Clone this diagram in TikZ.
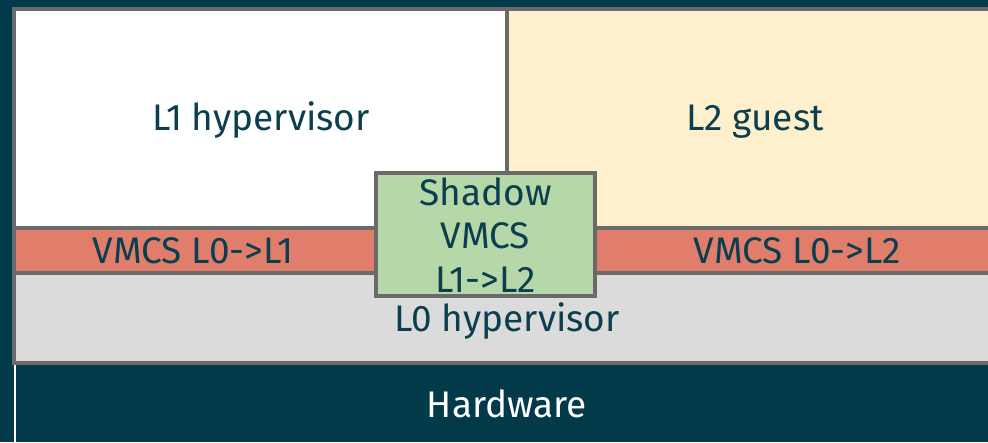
\documentclass[tikz,border=0pt]{standalone}
\usepackage{fontspec}
\setmainfont{Fira Sans}
\definecolor{bgteal}{HTML}{023A4A}
\definecolor{inkteal}{HTML}{0B3F4F}
\definecolor{edgegrey}{HTML}{6A6A6A}
\definecolor{vmcsred}{HTML}{E07D6B}
\definecolor{lzerogrey}{HTML}{DBDBDB}
\definecolor{guestyellow}{HTML}{FFF0CD}
\definecolor{shadowgreen}{HTML}{B6D7A8}
\tikzset{
  layer/.style={draw=edgegrey, line width=4pt},
  lbl/.style={text=inkteal, font=\fontsize{37}{44}\selectfont, anchor=base, inner sep=0pt},
}
\begin{document}
\begin{tikzpicture}[x=1pt,y=-1pt]
  % canvas
  \fill[bgteal] (0,0) rectangle (988,442) coordinate (canvas);
  \useasboundingbox (0,0) rectangle (988,442);
  \begin{scope}
    \clip (0,0) rectangle (988,442);
    % upper row
    \draw[layer, fill=white] (14,9) rectangle (507,228);
    \draw[layer, fill=guestyellow] (507,9) rectangle (1010,228);
    % L0 hypervisor
    \draw[layer, fill=lzerogrey] (14,273) rectangle (1010,363);
    % VMCS bands
    \draw[layer, fill=vmcsred] (14,228) rectangle (376,273);
    \draw[layer, fill=vmcsred] (595,228) rectangle (1010,273);
    % shadow VMCS
    \draw[layer, fill=shadowgreen] (376,173) rectangle (595,296);
    % hardware
    \fill[bgteal] (15,365) rectangle (1010,442);
    \draw[white, line width=1.2pt] (15,365) -- (15,442);
  \end{scope}
  % labels
  \node[lbl] (l1) at (261,130) {L1 hypervisor};
  \node[lbl] (l2) at (755,130) {L2 guest};
  \node[lbl] (vl1) at (193,263) {VMCS L0->L1};
  \node[lbl] (vl2) at (797,263) {VMCS L0->L2};
  \node[lbl] (sh1) at (485.5,205) {Shadow};
  \node[lbl] (sh2) at (485.5,248.5) {VMCS};
  \node[lbl] (sh3) at (485.5,292) {L1->L2};
  \node[lbl] (l0) at (507,331) {L0 hypervisor};
  \node[lbl, text=white] (hw) at (507,417) {Hardware};
\end{tikzpicture}
\end{document}
